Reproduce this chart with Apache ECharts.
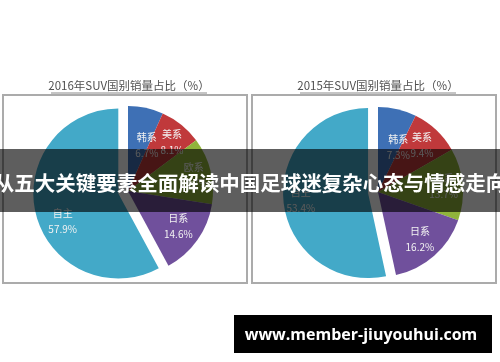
<!DOCTYPE html>
<html>
<head>
<meta charset="utf-8">
<style>
  html, body { margin: 0; padding: 0; background: #ffffff; }
  #chart { width: 500px; height: 362px; }
</style>
<script src="https://cdn.jsdelivr.net/npm/echarts@6/dist/echarts.min.js"></script>
</head>
<body>
<div id="chart"></div>
<script>
// SUV sales share by brand origin (%)
const categories = ['韩系', '美系', '欧系', '日系', '自主'];
const share2016 = [6.7, 8.1, 12.7, 14.6, 57.9];
const share2015 = [7.3, 9.4, 13.7, 16.2, 53.4];
const chartTitles = ['2016年SUV国别销量占比（%）', '2015年SUV国别销量占比（%）'];
const bannerText = '从五大关键要素全面解读中国足球迷复杂心态与情感走向';
const siteText = 'www.member-jiuyouhui.com';

const palette = ['#3e70b5', '#c0393b', '#90b43b', '#70509c', '#43a9c8'];
const CJK = '"Noto Sans CJK SC", "Noto Sans", sans-serif';

// how far out each label sits, as a fraction of the pie radius
const labelRadius = [
  { '韩系': 0.52, '美系': 0.755, '欧系': 0.76, '日系': 0.69, '自主': 0.64 },
  { '韩系': 0.55, '美系': 0.72, '欧系': 0.74, '日系': 0.71, '自主': 0.76 }
];
// horizontal tweaks for a few labels (px)
const labelShiftX = [
  { '韩系': 9, '美系': 2 },
  { '韩系': 9 }
];
// vertical drop for a few labels (px), done with a spacer line
const labelDrop = [
  { '美系': 4, '自主': 14 },
  { '韩系': 4 }
];

const R = 85;
const pies = [
  { values: share2016, center: [128, 191] },
  { values: share2015, center: [378, 192] }
];

function buildData(values, withColor, onlyLabel, k) {
  return categories.map((name, i) => {
    const item = {
      name,
      value: values[i],
      selected: name === '自主',
      itemStyle: { color: withColor ? palette[i] : 'rgba(0,0,0,0)' }
    };
    if (onlyLabel !== undefined) {
      item.label = { show: name === onlyLabel };
      const sx = labelShiftX[k][name];
      if (sx) item.label.offset = [sx, 0];
    }
    return item;
  });
}

const series = [];
pies.forEach((p, k) => {
  // coloured slices
  series.push({
    type: 'pie',
    center: p.center,
    radius: [0, R],
    startAngle: 90,
    clockwise: true,
    selectedMode: 'single',
    selectedOffset: 10,
    silent: true,
    animation: false,
    label: { show: false },
    labelLine: { show: false },
    emphasis: { scale: false },
    data: buildData(p.values, true)
  });
  // label carriers: transparent pies whose inside labels land at the wanted radius
  categories.forEach(name => {
    const drop = labelDrop[k][name] || 0;
    series.push({
      type: 'pie',
      center: p.center,
      radius: [0, R * 2 * labelRadius[k][name]],
      startAngle: 90,
      clockwise: true,
      selectedMode: 'single',
      selectedOffset: 10,
      silent: true,
      animation: false,
      labelLine: { show: false },
      emphasis: { scale: false },
      label: {
        show: true,
        position: 'inside',
        color: '#f2f2f2',
        fontFamily: CJK,
        fontSize: 10,
        lineHeight: 16,
        formatter: d => (drop ? '{pad| }\n' : '') +
          '{t|' + d.name + '}\n{t|' + d.value.toFixed(1) + '%}',
        rich: {
          t: { color: '#f2f2f2', fontFamily: CJK, fontSize: 10, lineHeight: 16 },
          pad: { fontSize: 1, lineHeight: drop * 2 || 1 }
        }
      },
      data: buildData(p.values, false, name, k)
    });
  });
});

const graphic = [];
// panel frames and titles
[[3, 95], [252, 95]].forEach(([x, y], k) => {
  graphic.push({
    type: 'rect', z: 1,
    shape: { x: x, y: y, width: 244, height: 188 },
    style: { fill: 'none', stroke: '#ababab', lineWidth: 2 }
  });
  graphic.push({
    type: 'text', z: 2,
    x: x + 126, y: 86,
    style: {
      text: chartTitles[k],
      fill: '#505050',
      font: '11.5px ' + CJK,
      textAlign: 'center',
      textVerticalAlign: 'middle'
    }
  });
  graphic.push({
    type: 'line', z: 2,
    shape: { x1: x + 48, y1: 93, x2: x + 204, y2: 93 },
    style: { stroke: '#8a8a8a', lineWidth: 1 }
  });
});

// headline banner
graphic.push({
  type: 'rect', z: 100,
  shape: { x: 0, y: 149, width: 500, height: 63 },
  style: { fill: 'rgba(0,0,0,0.63)' }
});
graphic.push({
  type: 'text', z: 101,
  x: 250, y: 183,
  style: {
    text: bannerText,
    fill: '#ffffff',
    font: 'bold 20.5px ' + CJK,
    textAlign: 'center',
    textVerticalAlign: 'middle'
  }
});

// site box
graphic.push({
  type: 'rect', z: 100,
  shape: { x: 234, y: 315, width: 258, height: 38 },
  style: { fill: '#000000' }
});
graphic.push({
  type: 'text', z: 101,
  x: 361, y: 335,
  style: {
    text: siteText,
    fill: '#ffffff',
    font: 'bold 16px "Open Sans", sans-serif',
    textAlign: 'center',
    textVerticalAlign: 'middle'
  }
});

const chart = echarts.init(document.getElementById('chart'), null, { renderer: 'canvas' });
chart.setOption({
  backgroundColor: '#ffffff',
  animation: false,
  series,
  graphic: { elements: graphic }
});
</script>
</body>
</html>
